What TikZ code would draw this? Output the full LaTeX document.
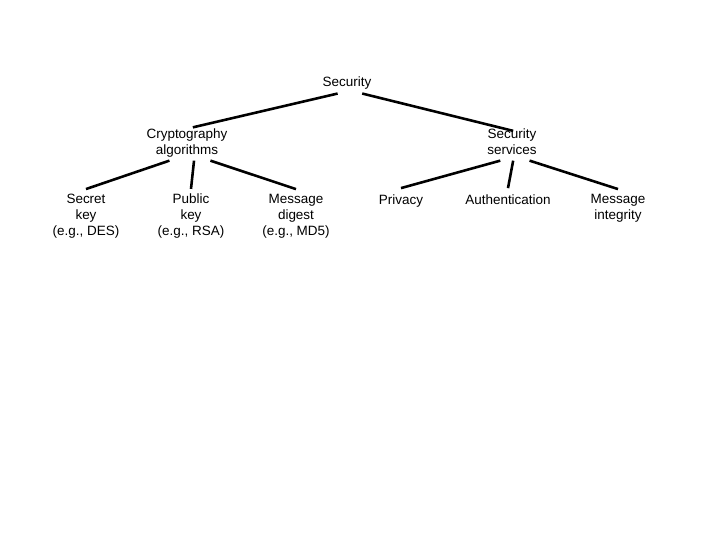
\documentclass[tikz,border=0pt]{standalone}
\usepackage{fontspec}
\setmainfont{Liberation Sans}
\usepackage{tikz}
\usetikzlibrary{positioning}
\usetikzlibrary{calc}

\begin{document}
\begin{tikzpicture}[x=0.03cm, y=-0.03cm,
  lbl/.style={align=center, inner sep=2pt, font=\fontsize{11.5pt}{13.6pt}\selectfont,
    execute at begin node=\strut, execute at end node=\strut},
  edge/.style={black, line width=2.2pt}]

 \useasboundingbox (0,0) rectangle (720,540);

 %root
 \node[lbl] (Sec) at (347,83) {Security};

 %level 1
 \node[lbl] (Crypto) at (187,144) {Cryptography\\algorithms};
 \node[lbl] (Serv) at (512,144) {Security\\services};

 %level 2
 \foreach \x/\y/\name/\txt in {86/217/Secret/{Secret\\key\\(e.g., DES)}, 191/217/Public/{Public\\key\\(e.g., RSA)}, 296/217/Digest/{Message\\digest\\(e.g., MD5)}, 401/201/Priv/{Privacy}, 508/201/Auth/{Authentication}, 618/209/Integ/{Message\\integrity}} {
   \node[lbl] (\name) at (\x,\y) {\txt};
 }

 %edges
 \draw[edge] ([xshift=-8pt]Sec.south) -- ([xshift=5pt,yshift=-1pt]Crypto.north);
 \draw[edge] ([xshift=13pt]Sec.south) -- ([xshift=1pt,yshift=-4pt]Serv.north);

 \draw[edge] ([xshift=-15pt,yshift=1pt]Crypto.south) -- ([yshift=2pt]Secret.north);
 \draw[edge] ([xshift=6pt,yshift=1pt]Crypto.south) -- ([yshift=2pt]Public.north);
 \draw[edge] ([xshift=20pt,yshift=1pt]Crypto.south) -- ([yshift=2pt]Digest.north);

 \draw[edge] ([xshift=-10pt,yshift=1pt]Serv.south) -- ([yshift=2pt]Priv.north);
 \draw[edge] ([xshift=1pt,yshift=1pt]Serv.south) -- ([yshift=2pt]Auth.north);
 \draw[edge] ([xshift=15pt,yshift=1pt]Serv.south) -- ([yshift=2pt]Integ.north);
\end{tikzpicture}
\end{document}
